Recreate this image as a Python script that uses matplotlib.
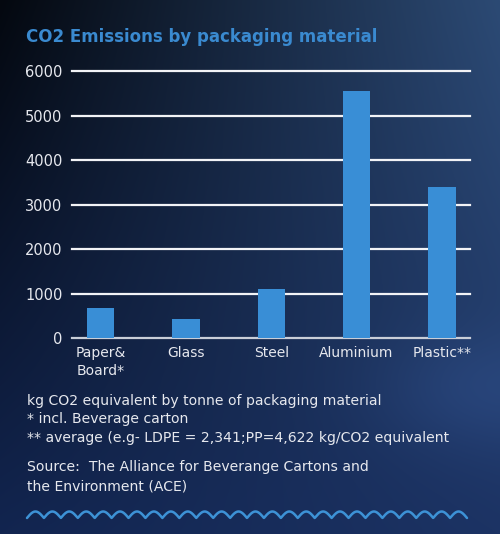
import numpy as np
import matplotlib
matplotlib.use("Agg")
import matplotlib.pyplot as plt
from matplotlib.colors import to_rgb

# ---- data ----
categories = ["Paper&\nBoard*", "Glass", "Steel", "Aluminium", "Plastic**"]
emissions = [670, 425, 1100, 5550, 3400]
yticks = [0, 1000, 2000, 3000, 4000, 5000, 6000]
title = "CO2 Emissions by packaging material"
notes = ["kg CO2 equivalent by tonne of packaging material",
         "* incl. Beverage carton",
         "** average (e.g- LDPE = 2,341;PP=4,622 kg/CO2 equivalent"]
source = ["Source:  The Alliance for Beverange Cartons and",
          "the Environment (ACE)"]

W, H = 500, 534
fig = plt.figure(figsize=(W / 100, H / 100), dpi=100)

# ---- background gradient ----
bg = fig.add_axes([0, 0, 1, 1], zorder=-10)
xs = np.linspace(0, 1, W)[None, :]
ys = np.linspace(0, 1, H)[:, None]
TL, TR = np.array(to_rgb("#04080f")), np.array(to_rgb("#2c4a74"))
BL, BR = np.array(to_rgb("#122550")), np.array(to_rgb("#1c3364"))
img = ((1 - xs)[..., None] * (1 - ys)[..., None] * TL + xs[..., None] * (1 - ys)[..., None] * TR
       + (1 - xs)[..., None] * ys[..., None] * BL + xs[..., None] * ys[..., None] * BR)
# faint mist on the right side
px = np.arange(W)[None, :]
py = np.arange(H)[:, None]
haze = np.exp(-(((px - 480) / 110.0) ** 2 + ((py - 390) / 60.0) ** 2))
img = img + haze[..., None] * np.array([0.03, 0.045, 0.07])
img = np.clip(img, 0, 1)
bg.imshow(img, aspect="auto", extent=[0, W, H, 0])
bg.set_xlim(0, W)
bg.set_ylim(H, 0)
bg.axis("off")

# ---- wave decoration ----
wx = np.linspace(27, 467, 2000)
period = 440 / 26
wy = 518 - 6.5 * np.abs(np.sin(np.pi * (wx - 27) / period))
bg.plot(wx, wy, color="#3d92d6", lw=1.8, solid_capstyle="round")

# ---- main chart ----
left, right = 71.7, 470
top, base = 71.3, 338
ax = fig.add_axes([left / W, 1 - base / H, (right - left) / W, (base - top) / H])
ax.set_facecolor("none")
x = np.arange(len(categories))
ax.bar(x, emissions, width=0.32, color="#398ed6", zorder=3)
ax.set_xlim(-0.34, 4.33)
ax.set_ylim(0, 6000)
for v in yticks:
    ax.axhline(v, color="#f2f3f6" if v else "#c9ced8", lw=1.6, zorder=1, clip_on=False)
for s in ax.spines.values():
    s.set_visible(False)
ax.set_yticks(yticks)
ax.set_yticklabels([str(v) for v in yticks])
ax.set_xticks(x)
ax.set_xticklabels(categories, linespacing=1.3)
ax.tick_params(axis="y", length=0, pad=6.5, labelsize=10.5, labelcolor="#e6e8ee")
ax.tick_params(axis="x", length=0, pad=6, labelsize=10, labelcolor="#e6e8ee")
for lbl in ax.get_xticklabels():
    lbl.set_verticalalignment("top")

# ---- texts ----
fig.text(26 / W, 1 - 37 / H, title, color="#3a8ad0", fontsize=12, fontweight="bold",
         ha="left", va="center")
for i, t in enumerate(notes):
    fig.text(27 / W, 1 - (400.7 + 18.8 * i) / H, t, color="#e6e8ee", fontsize=10.1,
             ha="left", va="center")
for i, t in enumerate(source):
    fig.text(27 / W, 1 - (466.7 + 19.3 * i) / H, t, color="#e6e8ee", fontsize=10.1,
             ha="left", va="center")

fig.savefig("out.png", dpi=100)
